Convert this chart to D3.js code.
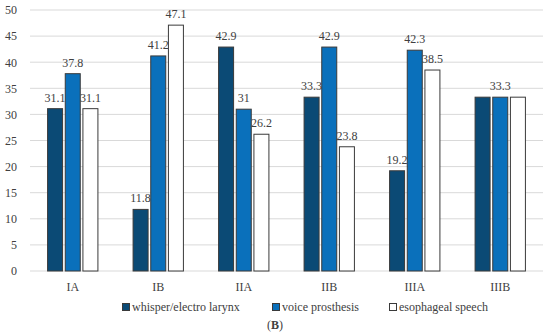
<!DOCTYPE html>
<html>
<head>
<meta charset="utf-8">
<script src="https://cdn.jsdelivr.net/npm/d3@7"></script>
<style>
  body { margin: 0; background: #fff; }
  text { font-family: "Liberation Serif", "DejaVu Serif", serif; fill: #404040; }
</style>
</head>
<body>
<div id="chart"></div>
<script>
// data
var categories = ["IA", "IB", "IIA", "IIB", "IIIA", "IIIB"];
var seriesNames = ["whisper/electro larynx", "voice prosthesis", "esophageal speech"];
var whisper = [31.1, 11.8, 42.9, 33.3, 19.2, 33.3];
var prosthesis = [37.8, 41.2, 31, 42.9, 42.3, 33.3];
var esophageal = [31.1, 47.1, 26.2, 23.8, 38.5, 33.3];
var yTicks = [0, 5, 10, 15, 20, 25, 30, 35, 40, 45, 50];
// labels that overlap in the original (only the middle one shows)
var hiddenLabels = [[0, 5], [2, 5]];

var colors = ["#0b4a75", "#0a70bb", "#ffffff"];

var margin = {top: 10, right: 7, bottom: 63, left: 30},
    width = 550 - margin.left - margin.right,
    height = 334 - margin.top - margin.bottom;

var svg = d3.select("#chart")
  .append("svg")
    .attr("width", 550)
    .attr("height", 334);

var g = svg.append("g")
  .attr("transform", "translate(" + margin.left + "," + margin.top + ")");

var x = d3.scaleBand().domain(categories).range([0, width]);
var y = d3.scaleLinear().domain([0, 50]).range([height, 0]);

// gridlines
g.selectAll(".grid")
  .data(yTicks)
  .enter().append("line")
    .attr("x1", 0)
    .attr("x2", width)
    .attr("y1", function(d) { return y(d); })
    .attr("y2", function(d) { return y(d); })
    .attr("stroke", "#d9d9d9")
    .attr("stroke-width", 1);

// y axis labels
g.append("g")
  .call(d3.axisLeft(y).tickValues(yTicks).tickSize(0).tickPadding(13))
  .call(function(a) { a.select(".domain").remove(); })
  .selectAll("text")
    .style("font-size", "12px")
    .style("font-family", "Liberation Serif, DejaVu Serif, serif")
    .attr("fill", "#404040");

// x axis labels
g.append("g")
  .attr("transform", "translate(0," + height + ")")
  .call(d3.axisBottom(x).tickSize(0).tickPadding(11))
  .call(function(a) { a.select(".domain").remove(); })
  .selectAll("text")
    .style("font-size", "12px")
    .style("font-family", "Liberation Serif, DejaVu Serif, serif")
    .attr("fill", "#404040");

var series = [whisper, prosthesis, esophageal];
var barW = 15, gap = 4;
var x1 = d3.scaleBand().domain([0, 1, 2]).range([x.bandwidth() / 2 - (barW * 1.5 + gap), x.bandwidth() / 2 + (barW * 1.5 + gap)]);

series.forEach(function(vals, si) {
  var grp = g.append("g");
  grp.selectAll("rect")
    .data(vals)
    .enter().append("rect")
      .attr("x", function(d, i) { return x(categories[i]) + x1(si) + (x1.bandwidth() - barW) / 2; })
      .attr("y", function(d) { return y(d); })
      .attr("width", barW)
      .attr("height", function(d) { return height - y(d); })
      .attr("fill", colors[si])
      .attr("stroke", "#3a3a3a")
      .attr("stroke-width", 1);

  grp.selectAll("text")
    .data(vals)
    .enter().append("text")
      .filter(function(d, i) {
        return !hiddenLabels.some(function(h) { return h[0] === si && h[1] === i; });
      })
      .attr("x", function(d, i) { return x(categories[i]) + x1(si) + x1.bandwidth() / 2; })
      .attr("y", function(d) { return y(d) - 7; })
      .attr("text-anchor", "middle")
      .style("font-size", "12px")
      .text(function(d) { return d; });
});

// legend
var legendX = [122, 272, 389];
var legend = svg.append("g").attr("transform", "translate(0,307)");
seriesNames.forEach(function(name, i) {
  legend.append("rect")
    .attr("x", legendX[i] + 0.5)
    .attr("y", -3.5)
    .attr("width", 7)
    .attr("height", 7)
    .attr("fill", colors[i])
    .attr("stroke", "#3a3a3a")
    .attr("stroke-width", 1);
  legend.append("text")
    .attr("x", legendX[i] + 10)
    .attr("y", 4)
    .style("font-size", "12px")
    .text(name);
});

// panel label
var lab = svg.append("text")
  .attr("x", 275)
  .attr("y", 329)
  .attr("text-anchor", "middle")
  .style("font-size", "12px");
lab.append("tspan").text("(");
lab.append("tspan").attr("font-weight", "bold").text("B");
lab.append("tspan").text(")");
</script>
</body>
</html>
